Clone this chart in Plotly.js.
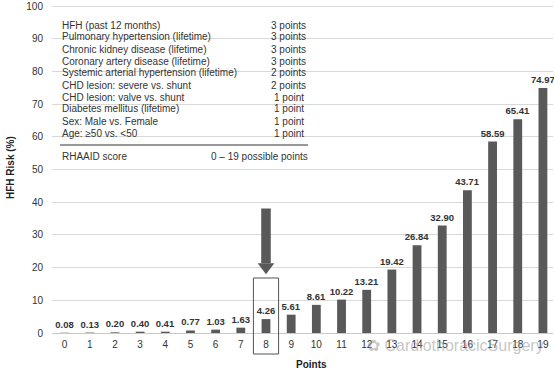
<!DOCTYPE html>
<html>
<head>
<meta charset="utf-8">
<script src="https://cdn.plot.ly/plotly-3.0.1.min.js"></script>
<style>html,body{margin:0;padding:0;background:#fff;}#chart{width:554px;height:371px;}</style>
</head>
<body>
<div id="chart"></div>
<script>
// ---- data ----
var points = ['0','1','2','3','4','5','6','7','8','9','10','11','12','13','14','15','16','17','18','19'];
var risk = [0.08,0.13,0.20,0.40,0.41,0.77,1.03,1.63,4.26,5.61,8.61,10.22,13.21,19.42,26.84,32.90,43.71,58.59,65.41,74.97];
var factorNames = ['HFH (past 12 months)','Pulmonary hypertension (lifetime)','Chronic kidney disease (lifetime)','Coronary artery disease (lifetime)','Systemic arterial hypertension (lifetime)','CHD lesion: severe vs. shunt','CHD lesion: valve vs. shunt','Diabetes mellitus (lifetime)','Sex: Male vs. Female','Age: \u226550 vs. <50'];
var factorPoints = ['3 points','3 points','3 points','3 points','2 points','2 points','1 point','1 point','1 point','1 point'];
var scoreLabel = 'RHAAID score';
var scoreRange = '0 \u2013 19 possible points';
var yTicks = [0,10,20,30,40,50,60,70,80,90,100];

// ---- layout helpers (pixel -> paper) ----
var W = 554, H = 371, mL = 52, mR = 1, mT = 5, mB = 38;
var pw = W - mL - mR, ph = H - mT - mB;
function px(x){ return (x - mL) / pw; }
function py(y){ return (H - mB - y) / ph; }

var font = 'Arial, "Liberation Sans", sans-serif';
var annotations = [];
var rowY = [25, 37, 49, 61, 73, 85, 97, 109, 121, 133];
factorNames.forEach(function(n, i){
  annotations.push({xref:'paper', yref:'paper', x:px(60), y:py(rowY[i]), xanchor:'left', yanchor:'middle', text:n, showarrow:false, font:{family:font, size:10, color:'#333'}});
  annotations.push({xref:'paper', yref:'paper', x:px(288.5), y:py(rowY[i]), xanchor:'center', yanchor:'middle', text:factorPoints[i], showarrow:false, font:{family:font, size:10, color:'#333'}});
});
annotations.push({xref:'paper', yref:'paper', x:px(60), y:py(156.5), xanchor:'left', yanchor:'middle', text:scoreLabel, showarrow:false, font:{family:font, size:10, color:'#333'}});
annotations.push({xref:'paper', yref:'paper', x:px(310), y:py(156.5), xanchor:'right', yanchor:'middle', text:scoreRange, showarrow:false, font:{family:font, size:10, color:'#333'}});
// axis titles
annotations.push({xref:'paper', yref:'paper', x:px(311), y:py(364), xanchor:'center', yanchor:'middle', text:'<b>Points</b>', showarrow:false, font:{family:font, size:10, color:'#222'}});
annotations.push({xref:'paper', yref:'paper', x:px(10), y:py(168), xanchor:'center', yanchor:'middle', textangle:-90, text:'<b>HFH Risk (%)</b>', showarrow:false, font:{family:font, size:10, color:'#222'}});
// watermark
annotations.push({xref:'paper', yref:'paper', x:px(455), y:py(345), xanchor:'center', yanchor:'middle', text:'\u273F CardiothoracicSurgery', showarrow:false, font:{family:font, size:16, color:'rgba(150,150,150,0.55)'}});

var yPerPx = 100 / ph;
var shapes = [
  {type:'line', xref:'paper', yref:'paper', x0:px(60), x1:px(308), y0:py(145), y1:py(145), line:{color:'#333', width:1}},
  {type:'rect', xref:'x', yref:'y', x0:7.81, x1:8.19, y0:(H-mB-208)*yPerPx, y1:(H-mB-263)*yPerPx, fillcolor:'#595959', line:{width:0}},
  {type:'path', xref:'x', yref:'y', path:'M 7.67,'+((H-mB-263)*yPerPx)+' L 8.33,'+((H-mB-263)*yPerPx)+' L 8,'+((H-mB-274)*yPerPx)+' Z', fillcolor:'#595959', line:{width:0}},
  {type:'rect', xref:'x', yref:'paper', x0:7.5, x1:8.5, y0:py(354), y1:py(278), fillcolor:'rgba(0,0,0,0)', line:{color:'#555', width:1}}
];

var trace = {
  type:'bar', x:points, y:risk, width:0.35,
  marker:{color:'#595959'},
  texttemplate:'%{y:.2f}', textposition:'outside', cliponaxis:false, constraintext:'none',
  textfont:{family:font, size:9.5, color:'#333', weight:'bold'},
  hoverinfo:'none'
};

var layout = {
  width:W, height:H, margin:{l:mL, r:mR, t:mT, b:mB},
  paper_bgcolor:'#fff', plot_bgcolor:'#fff', showlegend:false,
  font:{family:font, size:10, color:'#333'},
  xaxis:{type:'category', range:[-0.5, 19.4], showgrid:false, showline:false, ticks:'', ticklabelstandoff:4, tickfont:{family:font, size:10, color:'#333'}, automargin:false},
  yaxis:{range:[0,100.4], tickmode:'array', tickvals:yTicks, ticktext:yTicks.map(String), showgrid:true, gridcolor:'#d9d9d9', gridwidth:1, zeroline:true, zerolinecolor:'#c8c8c8', zerolinewidth:1, showline:false, ticks:'', ticklabelstandoff:8, tickfont:{family:font, size:10, color:'#333'}, automargin:false},
  annotations:annotations, shapes:shapes
};

Plotly.newPlot('chart', [trace], layout, {staticPlot:true, displayModeBar:false});
</script>
</body>
</html>
